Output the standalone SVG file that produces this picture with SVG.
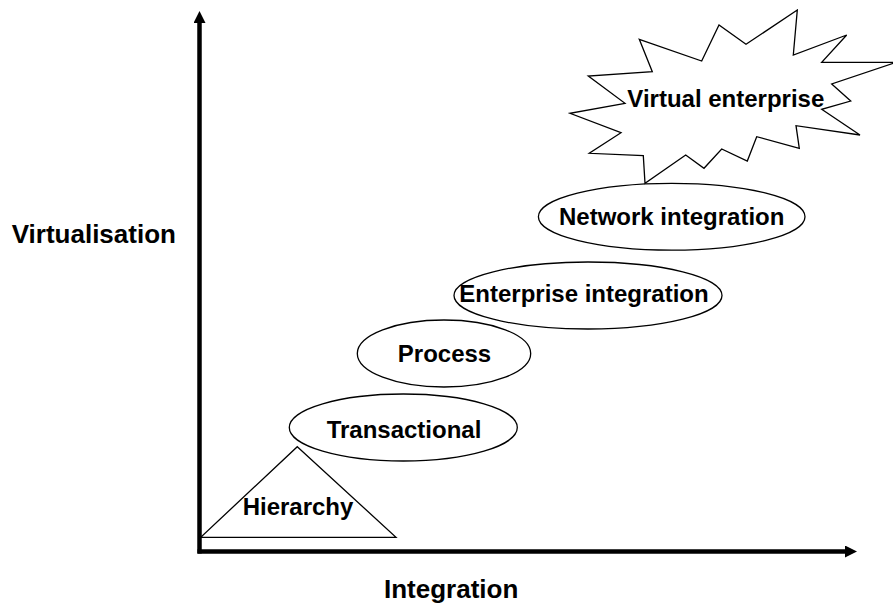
<svg xmlns="http://www.w3.org/2000/svg" width="893" height="606" viewBox="0 0 893 606">
<style>
.shape{fill:#fff;stroke:#000;stroke-width:1.3}
.lbl{font-family:"Liberation Sans",Arial,sans-serif;font-weight:bold;font-size:24px;fill:#000;text-anchor:middle}
.axlbl{font-family:"Liberation Sans",Arial,sans-serif;font-weight:bold;font-size:26px;fill:#000}
.axis{stroke:#000;stroke-width:4.5;fill:none}
</style>
<defs>
<marker id="ah" viewBox="0 0 12 12" refX="0" refY="6" markerWidth="12" markerHeight="12" markerUnits="userSpaceOnUse" orient="auto">
<path d="M0,0 L12,6 L0,12 Z" fill="#000"/>
</marker>
</defs>
<rect width="893" height="606" fill="#fff"/>
<g id="connectors">
<line class="axis" x1="199.5" y1="553.5" x2="199.5" y2="23" marker-end="url(#ah)"/>
<line class="axis" x1="197.5" y1="551.5" x2="845" y2="551.5" marker-end="url(#ah)"/>
</g>
<g id="hierarchy">
<polygon class="shape" points="297.3,446.7 396,537.3 200.7,537.3"/>
<text class="lbl" x="298" y="515">Hierarchy</text>
</g>
<g id="transactional">
<ellipse class="shape" cx="403.3" cy="427.5" rx="114" ry="33.5"/>
<text class="lbl" x="404" y="438">Transactional</text>
</g>
<g id="process">
<ellipse class="shape" cx="444" cy="353.5" rx="86.7" ry="33.5"/>
<text class="lbl" x="444.5" y="361.5">Process</text>
</g>
<g id="enterprise-integration">
<ellipse class="shape" cx="588" cy="295.5" rx="134" ry="33.5"/>
<text class="lbl" x="584" y="302">Enterprise integration</text>
</g>
<g id="network-integration">
<ellipse class="shape" cx="671.7" cy="216.7" rx="133.3" ry="33.4"/>
<text class="lbl" x="671.7" y="225">Network integration</text>
</g>
<g id="virtual-enterprise">
<polygon class="shape" points="639.3,39.3 701.7,61 719,25 746,44.3 797.3,10 793.3,55 846.7,35 821.7,62.3 896,62.3 831.7,84 850.7,101 821.7,109.3 860,135 796,125.7 799.3,148.3 756.7,136.7 747.3,161 721.7,149 704,168.3 685.7,155 645,183.3 643.3,155.7 589.3,153.3 621,132.7 570,113.3 625,103.3 588.3,76 652.3,71.7"/>
<text class="lbl" x="725.8" y="106.7">Virtual enterprise</text>
</g>
<g id="axis-labels">
<text class="axlbl" x="11.7" y="243.3">Virtualisation</text>
<text class="axlbl" x="384" y="598">Integration</text>
</g>
</svg>
